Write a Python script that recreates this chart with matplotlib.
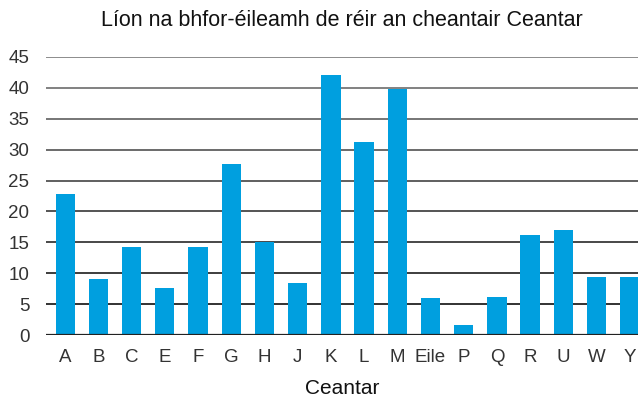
import matplotlib
matplotlib.use('Agg')
import matplotlib.pyplot as plt
import numpy as np

categories = ['A', 'B', 'C', 'E', 'F', 'G', 'H', 'J', 'K', 'L', 'M', 'Eile',
              'P', 'Q', 'R', 'U', 'W', 'Y']
values = [22.8, 9.1, 14.3, 7.65, 14.3, 27.7, 15.0, 8.45, 42.05, 31.2, 39.8, 6.0,
          1.7, 6.2, 16.2, 17.0, 9.4, 9.4]
yticks = [0, 5, 10, 15, 20, 25, 30, 35, 40, 45]

title = 'Líon na bhfor-éileamh de réir an cheantair Ceantar'
xlabel = 'Ceantar'


def plot_chart():
    plt.rcParams['font.family'] = ['Liberation Sans', 'DejaVu Sans']
    fig = plt.figure(figsize=(6.38, 4.0), dpi=100)
    ax = fig.add_axes([0.0721, 0.1618, 0.9279, 0.6965])

    x = np.arange(len(categories))
    ax.bar(x, values, width=0.58, color='#009fdf', zorder=3)

    ax.set_xlim(-0.58, len(categories) - 0.75)
    ax.set_ylim(0, 45)
    ax.set_yticks(yticks)
    ax.set_xticks(x)
    ax.set_xticklabels(categories, fontstretch='condensed', fontsize=13.5, color='#333333')
    ax.set_yticklabels([str(t) for t in yticks], fontstretch='condensed',
                       fontsize=13.5, color='#333333')
    ax.tick_params(axis='both', length=0)
    ax.tick_params(axis='y', pad=12)
    ax.tick_params(axis='x', pad=10)

    # gridlines: lighter grey at the top, darker near the base
    for t in yticks[1:]:
        frac = t / 45
        g = 0.15 + 0.4 * frac
        ax.axhline(t, color=(g, g, g), linewidth=1.4, zorder=1)
    ax.axhline(0, color='#222222', linewidth=1.6, zorder=4)

    for s in ax.spines.values():
        s.set_visible(False)

    fig.text(0.536, 1 - 20 / 400, title, fontsize=15.5, color='#111111',
             ha='center', va='center')
    fig.text(0.536, 1 - 389 / 400, xlabel, fontsize=15, color='#111111',
             ha='center', va='center')

    fig.savefig('out.png', dpi=100)


def main():
    plot_chart()


if __name__ == '__main__':
    main()
